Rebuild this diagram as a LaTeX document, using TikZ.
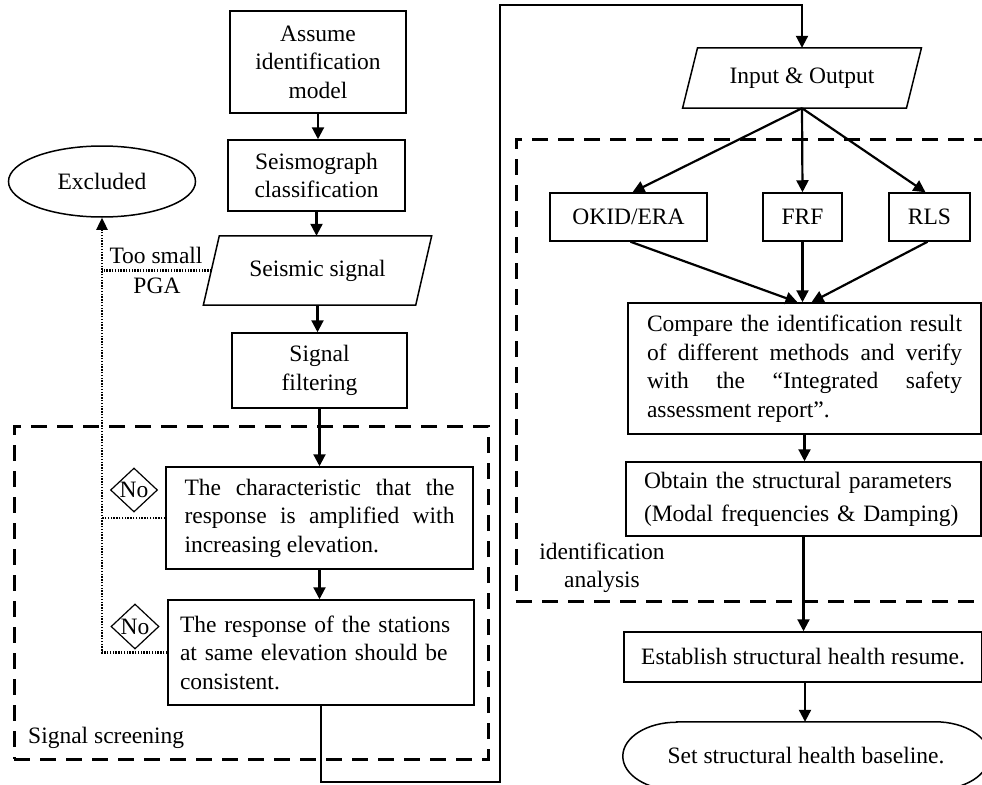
\documentclass[tikz,border=0pt]{standalone}
\usepackage{fontspec}
\setmainfont{Liberation Serif}
\usetikzlibrary{shapes.geometric,arrows.meta}
\hyphenpenalty=10000
\exhyphenpenalty=10000
\tolerance=9999
\begin{document}
\begin{tikzpicture}[x=1pt,y=1pt,
  font=\fontsize{23.5}{28.5}\selectfont,
  box/.style={draw, line width=1.5pt, rectangle, inner sep=0pt, align=center},
  ghost/.style={rectangle, inner sep=0pt, align=center},
  outline/.style={line width=1.5pt},
  arr/.style={line width=2.2pt, -{Triangle[length=12pt,width=12pt]}},
  dotln/.style={line width=2.4pt, dash pattern=on 1.4pt off 1.4pt},
  dframe/.style={draw, line width=3pt, dash pattern=on 16pt off 10pt, rectangle, inner sep=0pt},
  dia/.style={diamond, draw, line width=1.2pt, inner sep=0pt},
]
\useasboundingbox (0,0) rectangle (982,-784);
\clip (0,0) rectangle (982,-784);

% dashed frames
\node[dframe, minimum width=474pt, minimum height=333pt] (scr) at (251,-592.5) {};
\node[dframe, minimum width=500pt, minimum height=462pt] (idf) at (766,-370) {};
\node[anchor=base west, inner sep=0pt] (lblscr) at (28,-743) {Signal screening};
\node[ghost] (lblid) at (602,-568) {identification\\analysis};

% left column
\node[box, minimum width=176pt, minimum height=102pt] (assume) at (318,-62) {Assume\\identification\\model};
\node[box, minimum width=177pt, minimum height=71pt] (seis) at (316.5,-175.5) {Seismograph\\classification};
\node[ghost, minimum width=212pt, minimum height=69pt] (signal) at (317.5,-270.5) {Seismic signal};
\draw[outline] ([xshift=8pt]signal.north west) -- ([xshift=8pt]signal.north east)
  -- ([xshift=-8pt]signal.south east) -- ([xshift=-8pt]signal.south west) -- cycle;
\node[box, minimum width=175pt, minimum height=75pt] (filter) at (319.5,-370.5) {Signal\\filtering};
\node[box, minimum width=307pt, minimum height=102pt, text width=270pt, align=justify] (cond1) at (319.5,-518)
  {The characteristic that the response is amplified with increasing elevation.};
\node[box, minimum width=306pt, minimum height=105pt, text width=282pt, align=left] (cond2) at (321,-652.5)
  {The response of the stations\\at same elevation should be\\consistent.};
\node[draw, ellipse, line width=1.5pt, minimum width=187pt, minimum height=71pt, inner sep=0pt] (excl) at (102,-181.5) {Excluded};
\node[dia, minimum width=47pt, minimum height=44pt, label={[inner sep=0pt]center:No}] (no1) at (134,-490) {};
\node[dia, minimum width=48pt, minimum height=45pt, label={[inner sep=0pt]center:No}] (no2) at (135,-626.5) {};
\node[anchor=base, inner sep=0pt] (lbltoo) at (156,-263) {Too small};
\node[anchor=base, inner sep=0pt] (lblpga) at (157,-293) {PGA};

% right column
\node[ghost, minimum width=223.5pt, minimum height=60pt] (io) at (802,-78) {Input \& Output};
\draw[outline] ([xshift=7.5pt]io.north west) -- ([xshift=7.5pt]io.north east)
  -- ([xshift=-7.5pt]io.south east) -- ([xshift=-7.5pt]io.south west) -- cycle;
\node[box, minimum width=157pt, minimum height=48pt] (okid) at (628.5,-217) {OKID/ERA};
\node[box, minimum width=79pt, minimum height=48pt] (frf) at (802.5,-217) {FRF};
\node[box, minimum width=81pt, minimum height=48pt] (rls) at (929.5,-217) {RLS};
\node[box, minimum width=353pt, minimum height=131pt, text width=315pt, align=justify] (comp) at (804.5,-368.5)
  {Compare the identification result of different methods and verify with the “Integrated safety assessment report”.};
\node[box, minimum width=355pt, minimum height=74pt, text width=319pt, align=left,
  font=\fontsize{23.5}{33}\selectfont] (obt) at (803.5,-499)
  {Obtain the structural parameters\\(Modal frequencies \& Damping)};
\node[box, minimum width=358pt, minimum height=50pt] (est) at (803,-657) {Establish structural health resume.};
\node[ghost, minimum width=366pt, minimum height=68pt] (base) at (806,-756) {Set structural health baseline.};
\draw[outline] ([xshift=54pt]base.north west) -- ([xshift=-54pt]base.north east)
  arc[start angle=90, end angle=-90, x radius=54pt, y radius=34pt]
  -- ([xshift=54pt]base.south west)
  arc[start angle=270, end angle=90, x radius=54pt, y radius=34pt] -- cycle;

% connectors
\draw[arr] (assume.south) -- (assume.south |- seis.north);
\draw[arr] (seis.south) -- (seis.south |- signal.north);
\draw[arr] (signal.south) -- (signal.south |- filter.north);
\draw[arr] (filter.south) -- (filter.south |- cond1.north);
\draw[arr] (cond1.south) -- (cond1.south |- cond2.north);
\coordinate (bl) at (500,-782);
\coordinate (tl) at (500,-5);
\draw[arr, line width=2pt] (cond2.south) |- (bl) -- (tl) -| (io.north);
\draw[arr] (io.south) -- ([xshift=4pt]okid.north);
\draw[arr] (io.south) -- (frf.north);
\draw[arr] (io.south) -- ([xshift=-4pt]rls.north);
\draw[arr] ([xshift=2pt]okid.south) -- ([xshift=-7pt]comp.north);
\draw[arr] (frf.south) -- (frf.south |- comp.north);
\draw[arr] ([xshift=-2pt]rls.south) -- ([xshift=7pt]comp.north);
\draw[arr] (comp.south) -- (comp.south |- obt.north);
\draw[arr] (obt.south) -- (obt.south |- est.north);
\draw[arr] ([xshift=2pt]est.south) -- ([xshift=2pt]est.south |- base.north);

% dotted rejection paths
\draw[dotln, -{Triangle[length=12pt,width=11pt]}] (cond2.west) -| (excl.south);
\draw[dotln] (cond1.west) -- (cond1.west -| excl.south);
\draw[dotln] (signal.west) -- (signal.west -| excl.south);
\end{tikzpicture}
\end{document}
